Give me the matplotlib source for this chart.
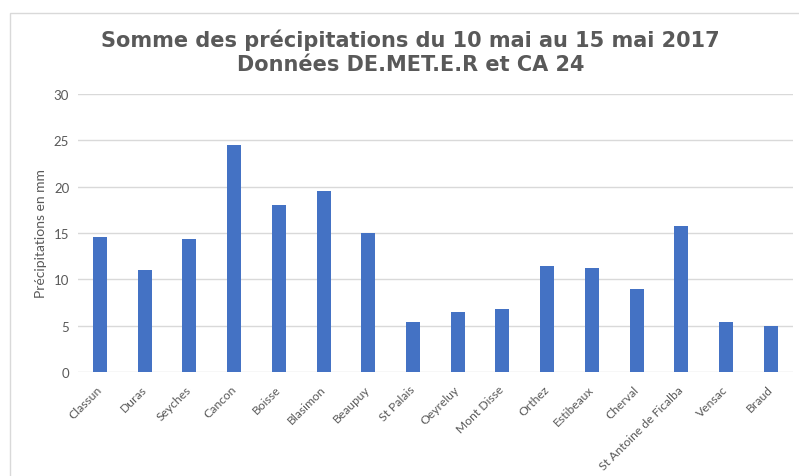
import numpy as np
import matplotlib
matplotlib.use("Agg")
import matplotlib.pyplot as plt
from matplotlib.patches import Rectangle

stations = ["Classun", "Duras", "Seyches", "Cancon", "Boisse", "Blasimon", "Beaupuy",
            "St Palais", "Oeyreluy", "Mont Disse", "Orthez", "Estibeaux", "Cherval",
            "St Antoine de Ficalba", "Vensac", "Braud"]
rain_mm = [14.6, 11.0, 14.4, 24.5, 18.0, 19.5, 15.0, 5.4, 6.5, 6.8, 11.4, 11.2, 9.0, 15.8, 5.4, 5.0]
yticks = [0, 5, 10, 15, 20, 25, 30]

title = "Somme des précipitations du 10 mai au 15 mai 2017\nDonnées DE.MET.E.R et CA 24"
grey = "#595959"

fig = plt.figure(figsize=(7.99, 4.77), dpi=100)
ax = fig.add_axes([0.0971, 0.218, 0.8954, 0.583])

# chart border (cut off on the right/bottom in the original)
fig.patches.append(Rectangle((10 / 799, -0.05), 1.0, 1 - 14 / 477 + 0.05,
                             transform=fig.transFigure, fill=False,
                             edgecolor="#d9d9d9", linewidth=1.0))

x = np.arange(len(stations))
ax.bar(x, rain_mm, width=0.313, color="#4472C4", zorder=3)

ax.set_xlim(-0.5, len(stations) - 0.5)
ax.set_ylim(0, 30)
ax.set_yticks(yticks)
ax.grid(axis="y", color="#d9d9d9", linewidth=1.0, zorder=0)
for s in ax.spines.values():
    s.set_visible(False)
ax.tick_params(axis="y", length=0, colors=grey, labelsize=9.5, pad=6)
ax.tick_params(axis="x", length=0, colors=grey, labelsize=8.7, pad=11)
ax.set_xticks(x)
ax.set_xticklabels(stations, rotation=45, ha="right", va="center",
                   rotation_mode="anchor", fontfamily="Lato")
for lab in ax.get_yticklabels():
    lab.set_fontfamily("Lato")

ax.set_ylabel("Précipitations en mm", fontfamily="Lato", fontsize=10, color=grey, labelpad=5)

fig.text(0.514, 0.89, title, ha="center", va="center", fontsize=15,
         fontweight="bold", color=grey, linespacing=1.26, fontfamily="DejaVu Sans")

fig.savefig("out.png", dpi=100)
